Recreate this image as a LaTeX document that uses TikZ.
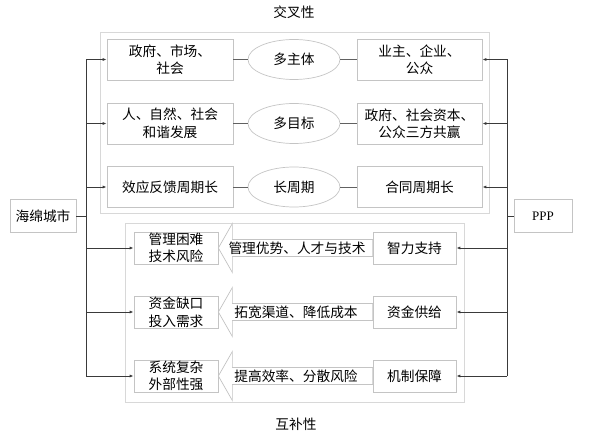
\documentclass[tikz,border=0pt]{standalone}
\usepackage{fontspec}
\setmainfont{Liberation Serif}
\newfontfamily\cjk{Noto Sans CJK SC}
\usetikzlibrary{arrows.meta,shapes.geometric,calc}
\definecolor{boxgray}{HTML}{C4C4C4}
\definecolor{framegray}{HTML}{D8D8D8}
\definecolor{linegray}{HTML}{3A3A3A}
\begin{document}
\begin{tikzpicture}[x=1bp,y=-1bp,
  every node/.style={font=\cjk\fontsize{13.7bp}{17.5bp}\selectfont, inner sep=0pt, align=center},
  topbox/.style={draw=boxgray, line width=0.7bp, minimum width=126bp, minimum height=41bp},
  oval/.style={draw=boxgray, line width=0.7bp, ellipse, minimum width=92bp, minimum height=40bp},
  botbox/.style={draw=boxgray, line width=0.7bp, minimum width=84bp, minimum height=32bp},
  endbox/.style={draw=boxgray, line width=0.7bp, minimum height=33bp},
  frame/.style={draw=framegray, line width=0.7bp},
  conn/.style={draw=linegray, line width=0.8bp, -{Latex[length=4bp,width=3bp]}},
  tie/.style={draw=linegray!80, line width=0.7bp},
  trunk/.style={draw=linegray, line width=0.8bp},
  hollow/.style={draw=boxgray, line width=0.7bp, fill=white}
]
\useasboundingbox (0,0) rectangle (596,434);
% frames
\draw[frame] (100,32) rectangle (489,213);
\draw[frame] (125,223) rectangle (464,402);
% titles
\node (t1) at (294,12) {交叉性};
\node (t2) at (296,424) {互补性};
% end boxes
\node[endbox, minimum width=66bp] (hm) at (43,216) {海绵城市};
\node[endbox, minimum width=58bp, font=\fontsize{13bp}{17bp}\selectfont] (ppp) at (543,216) {PPP};
% top rows
\node[topbox] (a1) at (170,59.5) {政府、市场、\\社会};
\node[topbox] (a2) at (170,123.5) {人、自然、社会\\和谐发展};
\node[topbox] (a3) at (170,187) {效应反馈周期长};
\node[oval] (e1) at (294,59.5) {多主体};
\node[oval] (e2) at (294,123.5) {多目标};
\node[oval] (e3) at (294,187) {长周期};
\node[topbox, minimum width=125bp] (b1) at (419.5,59.5) {业主、企业、\\公众};
\node[topbox, minimum width=125bp] (b2) at (419.5,123.5) {政府、社会资本、\\公众三方共赢};
\node[topbox, minimum width=125bp] (b3) at (419.5,187) {合同周期长};
\foreach \i in {1,2,3}{
  \draw[tie] (a\i.east) -- (e\i.west);
  \draw[tie] (e\i.east) -- (b\i.west);
}
% bottom rows
\node[botbox] (c1) at (176,248) {管理困难\\技术风险};
\node[botbox] (c2) at (176,312) {资金缺口\\投入需求};
\node[botbox] (c3) at (176,376) {系统复杂\\外部性强};
\node[botbox, minimum width=83bp] (d1) at (414.5,248) {智力支持};
\node[botbox, minimum width=83bp] (d2) at (414.5,312) {资金供给};
\node[botbox, minimum width=83bp] (d3) at (414.5,376) {机制保障};
\foreach \i in {1,2,3}{
  \draw[hollow] (c\i.east) -- ++(14,-24.5) -- ++(0,16) -- (d\i.west |- {$(c\i.east)+(0,-8.5)$})
    -- (d\i.west |- {$(c\i.east)+(0,8.5)$}) -- ($(c\i.east)+(14,8.5)$) -- ++(0,16) -- cycle;
}
\node (m1) at (297,248) {管理优势、人才与技术};
\node (m2) at (296,312) {拓宽渠道、降低成本};
\node (m3) at (296,376) {提高效率、分散风险};
% trunks
\coordinate (lt) at (86,216);
\coordinate (rt) at (507,216);
\draw[trunk] (hm.east) -- (lt);
\draw[trunk] (ppp.west) -- (rt);
\draw[trunk] (lt |- a1.west) -- (lt |- c3.west);
\draw[trunk] (rt |- b1.east) -- (rt |- d3.east);
\foreach \n in {a1,a2,a3,c1,c2,c3}{
  \draw[conn] (lt |- \n.west) -- (\n.west);
}
\foreach \n in {b1,b2,b3,d1,d2,d3}{
  \draw[conn] (rt |- \n.east) -- (\n.east);
}
\end{tikzpicture}
\end{document}
